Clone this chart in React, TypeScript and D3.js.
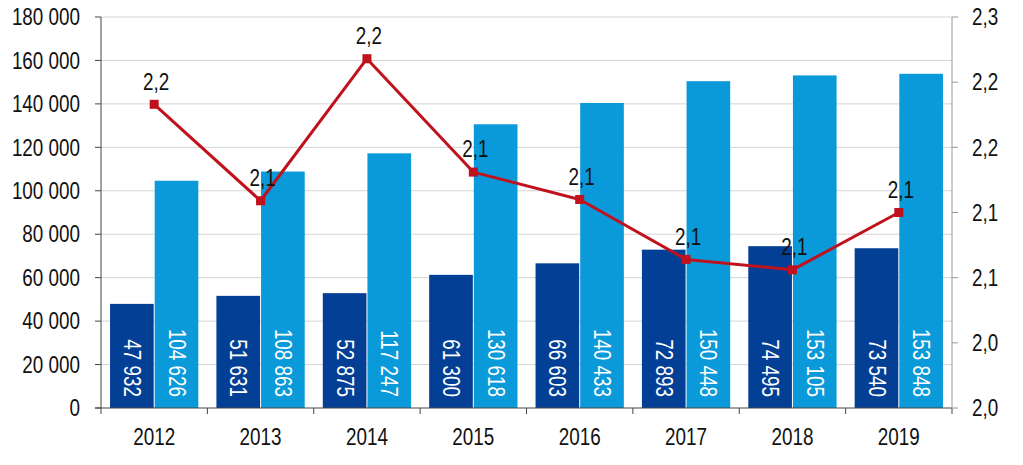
import React from "react";
import * as d3 from "d3";

const years = ["2012", "2013", "2014", "2015", "2016", "2017", "2018", "2019"];
const darkValues = [47932, 51631, 52875, 61300, 66603, 72893, 74495, 73540];
const lightValues = [104626, 108863, 117247, 130618, 140433, 150448, 153105, 153848];
const lineValues = [2.183, 2.109, 2.218, 2.131, 2.11, 2.064, 2.056, 2.1];
const leftTicks = [0, 20000, 40000, 60000, 80000, 100000, 120000, 140000, 160000, 180000];
const rightTicks = [1.95, 2.0, 2.05, 2.1, 2.15, 2.2, 2.25];
const rightTickLabels = ["2,0", "2,0", "2,1", "2,1", "2,2", "2,2", "2,3"];

const W = 1023;
const H = 465;
const M = { left: 101, right: 952, top: 17, bottom: 408 };
const FONT = "'Liberation Sans', Arial, sans-serif";
const FS = 23;
const SX = 0.82;
const DARK = "#033F95";
const LIGHT = "#0A99D9";
const RED = "#C0121C";

const locale = d3.formatLocale({ decimal: ",", thousands: "\u00a0", grouping: [3], currency: ["", ""] });
const fmtInt = locale.format(",d");
const fmtDec = locale.format(".1f");

function T(props: { x: number; y: number; rot?: number; anchor: string; fill?: string; children: React.ReactNode }) {
  const { x, y, rot = 0, anchor, fill = "#111", children } = props;
  return (
    <text
      transform={`translate(${x},${y}) rotate(${rot}) scale(${SX},1)`}
      textAnchor={anchor}
      dominantBaseline="central"
      fontSize={FS}
      fill={fill}
    >
      {children}
    </text>
  );
}

export default function App() {
  const x = d3.scaleBand<string>().domain(years).range([M.left, M.right]).paddingInner(0.17).paddingOuter(0.085);
  const xCat = d3.scaleBand<string>().domain(years).range([M.left, M.right]);
  const yL = d3.scaleLinear().domain([0, 180000]).range([M.bottom, M.top]);
  const yR = d3.scaleLinear().domain([1.95, 2.25]).range([M.bottom, M.top]);
  const bw = x.bandwidth() / 2;
  const line = d3
    .line<number>()
    .x((_, i) => (xCat(years[i]) as number) + xCat.bandwidth() / 2)
    .y((d) => yR(d));

  return (
    <div style={{ position: "absolute", left: 0, top: 0 }}>
      <svg width={W} height={H} style={{ display: "block", fontFamily: FONT }}>
        <rect width={W} height={H} fill="#fff" />
        {leftTicks.slice(1).map((t) => (
          <line key={t} x1={M.left} x2={M.right} y1={yL(t)} y2={yL(t)} stroke="#D4D4D4" strokeWidth={1} />
        ))}
        {years.map((yr, i) => {
          const x0 = x(yr) as number;
          return (
            <g key={yr}>
              <rect x={x0} y={yL(darkValues[i])} width={bw - 0.5} height={M.bottom - yL(darkValues[i])} fill={DARK} />
              <rect x={x0 + bw + 0.5} y={yL(lightValues[i])} width={bw - 0.5} height={M.bottom - yL(lightValues[i])} fill={LIGHT} />
              <T x={x0 + bw / 2} y={M.bottom - 11} rot={90} anchor="end" fill="#fff">
                {fmtInt(darkValues[i])}
              </T>
              <T x={x0 + bw * 1.5 + 0.5} y={M.bottom - 11} rot={90} anchor="end" fill="#fff">
                {fmtInt(lightValues[i])}
              </T>
            </g>
          );
        })}
        {/* left axis */}
        <line x1={M.left} x2={M.left} y1={M.top} y2={M.bottom + 6} stroke="#444" strokeWidth={1} />
        {leftTicks.map((t) => (
          <g key={t}>
            <line x1={M.left - 6} x2={M.left} y1={yL(t)} y2={yL(t)} stroke="#444" />
            <T x={M.left - 21} y={yL(t)} anchor="end">
              {fmtInt(t)}
            </T>
          </g>
        ))}
        {/* x axis */}
        <line x1={M.left - 6} x2={M.right} y1={M.bottom} y2={M.bottom} stroke="#444" strokeWidth={1} />
        {years.map((yr) => (
          <g key={yr}>
            <line x1={(xCat(yr) as number) + xCat.bandwidth()} x2={(xCat(yr) as number) + xCat.bandwidth()} y1={M.bottom} y2={M.bottom + 6} stroke="#444" />
            <T x={(xCat(yr) as number) + xCat.bandwidth() / 2} y={437} anchor="middle">
              {yr}
            </T>
          </g>
        ))}
        {/* right axis */}
        <line x1={M.right} x2={M.right} y1={M.top} y2={M.bottom} stroke="#999" strokeWidth={1} />
        {rightTicks.map((t, i) => (
          <g key={t}>
            <line x1={M.right} x2={M.right + 6} y1={yR(t)} y2={yR(t)} stroke="#999" />
            <T x={M.right + 20} y={yR(t)} anchor="start">
              {rightTickLabels[i]}
            </T>
          </g>
        ))}
        {/* line */}
        <path d={line(lineValues) || ""} fill="none" stroke={RED} strokeWidth={3} strokeLinejoin="round" />
        {lineValues.map((v, i) => {
          const cx = (xCat(years[i]) as number) + xCat.bandwidth() / 2;
          return (
            <g key={i}>
              <rect x={cx - 4.5} y={yR(v) - 4.5} width={9} height={9} fill={RED} />
              <T x={cx + 2} y={yR(v) - 23} anchor="middle">
                {fmtDec(v)}
              </T>
            </g>
          );
        })}
      </svg>
    </div>
  );
}
